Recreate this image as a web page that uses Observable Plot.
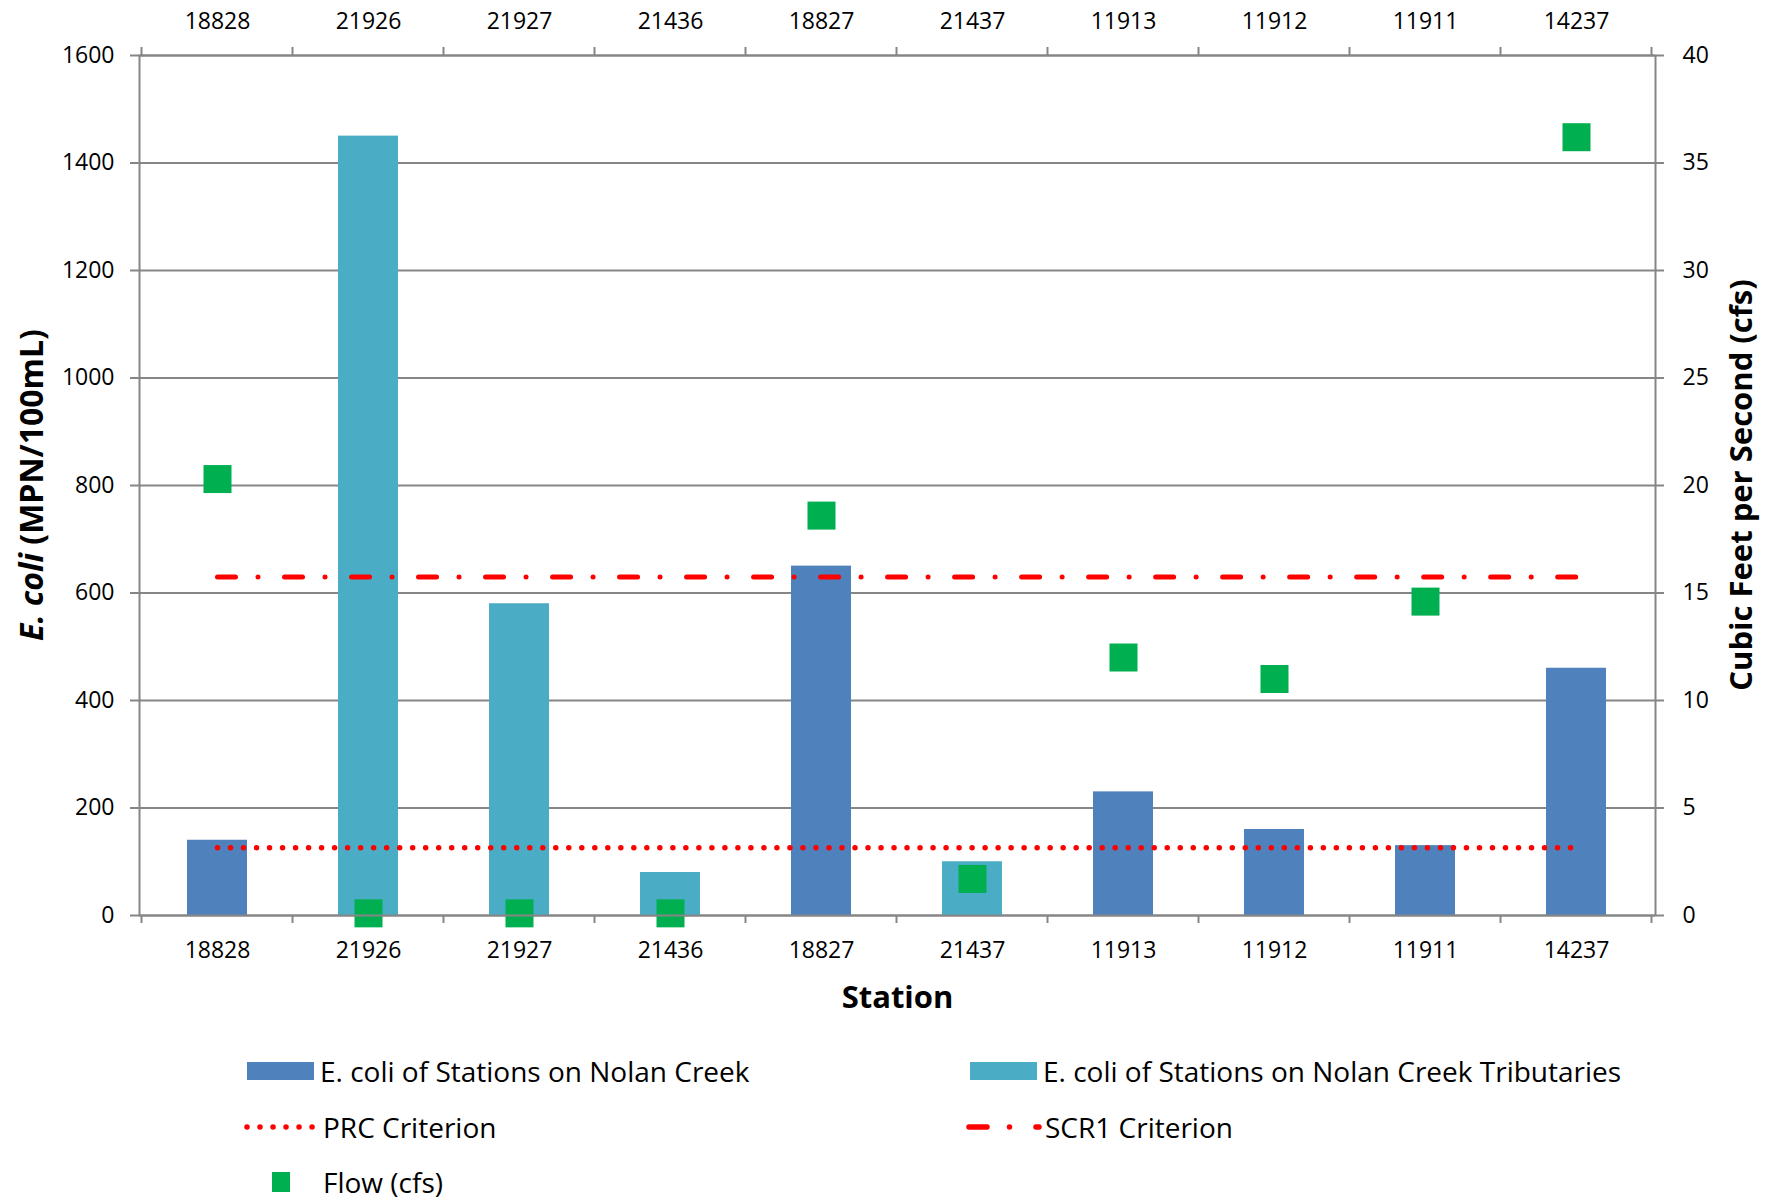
<!DOCTYPE html>
<html><head><meta charset="utf-8">
<script src="https://cdn.jsdelivr.net/npm/d3@7"></script>
<script src="https://cdn.jsdelivr.net/npm/@observablehq/plot@0.6"></script>
<style>
body{margin:0;background:#fff;}
#wrap{position:relative;width:1776px;height:1202px;font-family:"Open Sans",sans-serif;color:#000;overflow:hidden;}
#chart{position:absolute;left:0;top:0;}
.leg{position:absolute;display:flex;align-items:center;font-size:28px;white-space:nowrap;height:40px;}
.leg svg{display:block;}
</style></head><body><div id="wrap"><div id="chart"></div><div id="legend"></div></div>
<script>
// ---- data ----
const stations = ["18828","21926","21927","21436","18827","21437","11913","11912","11911","14237"];
const stationType = ["main","trib","trib","trib","main","trib","main","main","main","main"];
const ecoli = [140,1450,580,80,650,100,230,160,130,460];
const flow = [20.3,0.1,0.1,0.1,18.6,1.7,12.0,11.0,14.6,36.2];
const prcCriterion = 126;
const scr1Criterion = 630;
const leftTicks = [0,200,400,600,800,1000,1200,1400,1600];
const rightTicks = [0,5,10,15,20,25,30,35,40];
const typeNames = ["main","trib"];
const typeColors = ["#4F81BD","#4BACC6"];
const legendLabels = ["E. coli of Stations on Nolan Creek","E. coli of Stations on Nolan Creek Tributaries","PRC Criterion","SCR1 Criterion","Flow (cfs)"];

const ratio = leftTicks[leftTicks.length-1] / rightTicks[rightTicks.length-1];
const data = stations.map((s,i)=>({station:s,type:stationType[i],ecoli:ecoli[i],flow:flow[i]}));

const GRAY = "#868686", RED = "#FF0000", GREEN = "#00B050";
const W = 1776, H = 1040;
const prcDash = "0.01 13", scrDash = "18 22.5 0.01 26.5";

const plot = Plot.plot({
  width: W, height: H,
  marginLeft: 139, marginRight: 121, marginTop: 55, marginBottom: 125,
  style: {fontFamily: '"Open Sans", sans-serif', fontSize: "23px", color: "#000", background: "#fff"},
  x: {domain: stations, paddingInner: 0.6, paddingOuter: 0.3, label: null},
  y: {domain: [0, leftTicks[leftTicks.length-1]], label: null},
  color: {domain: typeNames, range: typeColors},
  marks: [
    Plot.gridY({ticks: leftTicks, stroke: GRAY, strokeOpacity: 1, strokeWidth: 2}),
    Plot.barY(data, {x: "station", y: "ecoli", fill: "type"}),
    Plot.line(data, {x: "station", y: () => prcCriterion, stroke: RED, strokeWidth: 5.5, strokeDasharray: prcDash, strokeLinecap: "round"}),
    Plot.line(data, {x: "station", y: () => scr1Criterion, stroke: RED, strokeWidth: 5, strokeDasharray: scrDash, strokeLinecap: "round"}),
    Plot.dot(data, {x: "station", y: d => d.flow * ratio, symbol: "square", r: 15.8, fill: GREEN}),
    Plot.frame({stroke: GRAY, strokeWidth: 2}),
    Plot.axisY({ticks: leftTicks, tickFormat: d => String(d), tickSize: 9, tickPadding: 16, stroke: GRAY, strokeWidth: 2, strokeOpacity: 1, fill: "#000", label: null}),
    Plot.axisY({anchor: "right", ticks: rightTicks.map(v => v * ratio), tickFormat: d => String(d / ratio), tickSize: 8, tickPadding: 19, stroke: GRAY, strokeWidth: 2, strokeOpacity: 1, fill: "#000", label: null}),
    Plot.axisX({anchor: "bottom", tickSize: 0, tickPadding: 26, fill: "#000", label: null}),
    Plot.axisX({anchor: "top", tickSize: 0, tickPadding: 27, fill: "#000", label: null}),
    Plot.text(["Station"], {frameAnchor: "bottom", dy: 92, fontWeight: "bold", fontSize: 31, fill: "#000"})
  ]
});
document.getElementById("chart").appendChild(plot);

// boundary ticks (category edges), top and bottom, from the x scale
const xs = plot.scale("x");
const ys = plot.scale("y");
const step = xs.step, bw = xs.bandwidth;
const edges = stations.map(s => xs.apply(s) + bw/2 - step/2);
edges.push(edges[edges.length-1] + step);
const yTop = ys.apply(leftTicks[leftTicks.length-1]), yBot = ys.apply(0);
const svg = d3.select(plot);
const g = svg.append("g").attr("stroke", GRAY).attr("stroke-width", 2);
edges.forEach(x => {
  g.append("line").attr("x1", x).attr("x2", x).attr("y1", yTop - 8).attr("y2", yTop);
  g.append("line").attr("x1", x).attr("x2", x).attr("y1", yBot).attr("y2", yBot + 8);
});
// axis titles
const yMid = (yTop + yBot) / 2;
const lt = svg.append("text").attr("transform", `translate(43,${yMid}) rotate(-90)`)
  .attr("text-anchor", "middle").attr("font-weight", "bold").attr("font-size", 32).attr("fill", "#000");
lt.append("tspan").attr("font-style", "italic").text("E. coli");
lt.append("tspan").text(" (MPN/100mL)");
svg.append("text").attr("transform", `translate(1752,${yMid}) rotate(-90)`)
  .attr("text-anchor", "middle").attr("font-weight", "bold").attr("font-size", 31).attr("fill", "#000")
  .text("Cubic Feet per Second (cfs)");

// ---- legend ----
const leg = document.getElementById("legend");
function item(left, cy, swatchSvg, label) {
  const d = document.createElement("div");
  d.className = "leg";
  d.style.left = left + "px";
  d.style.top = (cy - 20) + "px";
  d.innerHTML = swatchSvg + `<span style="margin-left:3px">${label}</span>`;
  leg.appendChild(d);
}
const rectSw = c => `<svg width="70" height="40"><rect x="0" y="11" width="67" height="18" fill="${c}"/></svg>`;
const lineSw = dash => `<svg width="76" height="40"><line x1="3" x2="73" y1="20" y2="20" stroke="${RED}" stroke-width="5.5" stroke-linecap="round" stroke-dasharray="${dash}"/></svg>`;
const sqSw = `<svg width="76" height="40"><rect x="28" y="10" width="18" height="20" fill="${GREEN}"/></svg>`;
item(247, 1071, rectSw(typeColors[0]), legendLabels[0]);
item(970, 1071, rectSw(typeColors[1]), legendLabels[1]);
item(244, 1127, lineSw(prcDash), legendLabels[2]);
item(966, 1127, lineSw(scrDash), legendLabels[3]);
item(244, 1182, sqSw, legendLabels[4]);
</script></body></html>
